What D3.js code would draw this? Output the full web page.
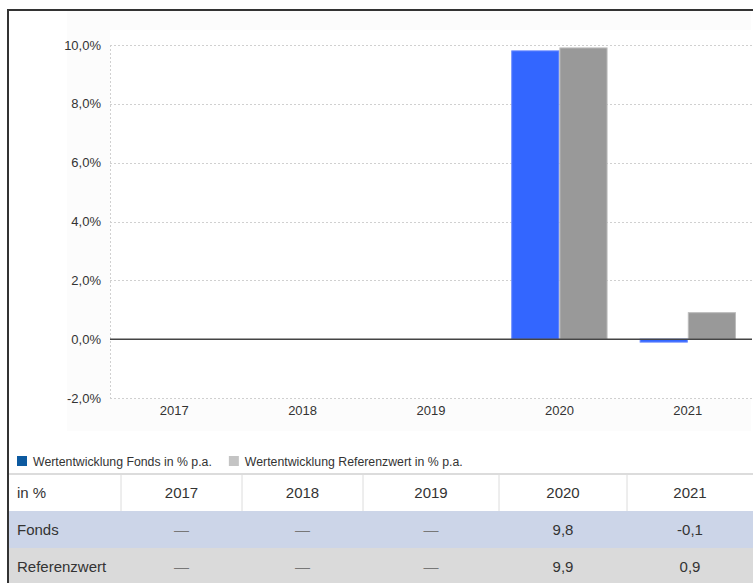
<!DOCTYPE html>
<head>
  <meta charset="utf-8">
  <script src="https://cdn.jsdelivr.net/npm/d3@7"></script>
  <style>
    body { margin:0; background:#fff; }
    svg { display:block; font-family:"Liberation Sans", Arial, sans-serif; }
  </style>
</head>
<body>
  <svg width="753" height="583"></svg>
  <script>
    var years = ["2017", "2018", "2019", "2020", "2021"];
    var fonds = [null, null, null, 9.8, -0.1];
    var referenz = [null, null, null, 9.9, 0.9];
    var yTicks = [-2, 0, 2, 4, 6, 8, 10];
    var legendLabels = ["Wertentwicklung Fonds in % p.a.", "Wertentwicklung Referenzwert in % p.a."];
    var rowLabels = ["Fonds", "Referenzwert"];

    var svg = d3.select("svg");
    var fmt = function (v) { return v.toFixed(1).replace(".", ","); };

    // frame
    svg.append("rect").attr("x", 67).attr("y", 11).attr("width", 684).attr("height", 420).attr("fill", "#fcfcfc");
    svg.append("rect").attr("x", 110).attr("y", 30).attr("width", 641).attr("height", 369).attr("fill", "#fff");
    svg.append("line").attr("x1", 8).attr("x2", 753).attr("y1", 10).attr("y2", 10).attr("stroke", "#333").attr("stroke-width", 2);
    svg.append("line").attr("x1", 8).attr("x2", 8).attr("y1", 9).attr("y2", 583).attr("stroke", "#333").attr("stroke-width", 2);

    var x = d3.scaleBand().domain(years).range([110, 752]).paddingInner(0.25).paddingOuter(0.125);
    var xs = d3.scaleBand().domain(["f", "r"]).range([0, x.bandwidth()]);
    var y = d3.scaleLinear().domain([-2, 10]).range([398, 45]);

    // grid
    svg.append("g").selectAll("line").data(yTicks).join("line")
      .attr("x1", 110).attr("x2", 752)
      .attr("y1", function (d) { return Math.round(y(d)) + 0.5; })
      .attr("y2", function (d) { return Math.round(y(d)) + 0.5; })
      .attr("stroke", "#d0d0d0").attr("stroke-dasharray", "2,2");
    svg.append("line").attr("x1", 110.5).attr("x2", 110.5).attr("y1", y(10)).attr("y2", y(-2))
      .attr("stroke", "#d0d0d0").attr("stroke-dasharray", "2,2");

    // y labels
    svg.append("g").selectAll("text").data(yTicks).join("text")
      .attr("x", 101).attr("y", function (d) { return y(d) + 4.5; })
      .attr("text-anchor", "end").attr("font-size", 13).attr("fill", "#333")
      .text(function (d) { return fmt(d) + "%"; });

    // x labels
    svg.append("g").selectAll("text").data(years).join("text")
      .attr("x", function (d) { return x(d) + x.bandwidth() / 2; })
      .attr("y", 415).attr("text-anchor", "middle").attr("font-size", 13).attr("fill", "#333")
      .text(function (d) { return d; });

    // bars
    var series = [
      { key: "f", values: fonds, fill: "#3366ff", stroke: "#6688ff" },
      { key: "r", values: referenz, fill: "#999999", stroke: "#bbbbbb" }
    ];
    series.forEach(function (s) {
      svg.append("g").selectAll("rect")
        .data(years.map(function (yr, i) { return { yr: yr, v: s.values[i] }; }).filter(function (d) { return d.v !== null; }))
        .join("rect")
        .attr("x", function (d) { return x(d.yr) + xs(s.key) + 0.5; })
        .attr("width", xs.bandwidth() - 1)
        .attr("y", function (d) { return Math.min(y(d.v), y(0)); })
        .attr("height", function (d) { return Math.abs(y(d.v) - y(0)); })
        .attr("fill", s.fill).attr("stroke", s.stroke).attr("stroke-width", 1);
    });

    // zero line
    svg.append("line").attr("x1", 110).attr("x2", 752).attr("y1", y(0)).attr("y2", y(0))
      .attr("stroke", "#444").attr("stroke-width", 1.5);

    // legend
    var legendColors = ["#0d5aa0", "#c4c4c4"];
    var lg = svg.append("g");
    var lx = 17;
    legendLabels.forEach(function (t, i) {
      lg.append("rect").attr("x", lx).attr("y", 456).attr("width", 10).attr("height", 10).attr("fill", legendColors[i]);
      var tx = lg.append("text").attr("x", lx + 16).attr("y", 465.5).attr("font-size", 12.3).attr("fill", "#333").text(t);
      lx += 16 + tx.node().getComputedTextLength() + 17;
    });

    // table
    var colEdges = [8, 121, 242, 363, 499, 627, 753];
    var rowTop = [474, 511, 548, 585];
    var rowFill = ["#ffffff", "#ccd5e8", "#dadada"];
    svg.append("g").selectAll("rect").data(rowFill).join("rect")
      .attr("x", 9).attr("width", 744)
      .attr("y", function (d, i) { return rowTop[i]; })
      .attr("height", function (d, i) { return rowTop[i + 1] - rowTop[i]; })
      .attr("fill", function (d) { return d; });
    svg.append("line").attr("x1", 9).attr("x2", 753).attr("y1", 474).attr("y2", 474).attr("stroke", "#dcdcdc").attr("stroke-width", 2);
    svg.append("g").selectAll("line").data(colEdges.slice(1, -1)).join("line")
      .attr("x1", function (d) { return d; }).attr("x2", function (d) { return d; })
      .attr("y1", 475).attr("y2", 511).attr("stroke", "#dcdcdc").attr("stroke-width", 1);

    var rows = [["in %"].concat(years),
      [rowLabels[0]].concat(fonds.map(function (v) { return v === null ? "—" : fmt(v); })),
      [rowLabels[1]].concat(referenz.map(function (v) { return v === null ? "—" : fmt(v); }))];
    rows.forEach(function (r, ri) {
      svg.append("g").selectAll("text").data(r).join("text")
        .attr("x", function (d, ci) { return ci === 0 ? 17 : (colEdges[ci] + colEdges[ci + 1]) / 2; })
        .attr("y", (rowTop[ri] + rowTop[ri + 1]) / 2 + 5)
        .attr("text-anchor", function (d, ci) { return ci === 0 ? "start" : "middle"; })
        .attr("font-size", 15)
        .attr("fill", function (d) { return d === "—" ? "#777" : "#333"; })
        .text(function (d) { return d; });
    });
  </script>
</body>
